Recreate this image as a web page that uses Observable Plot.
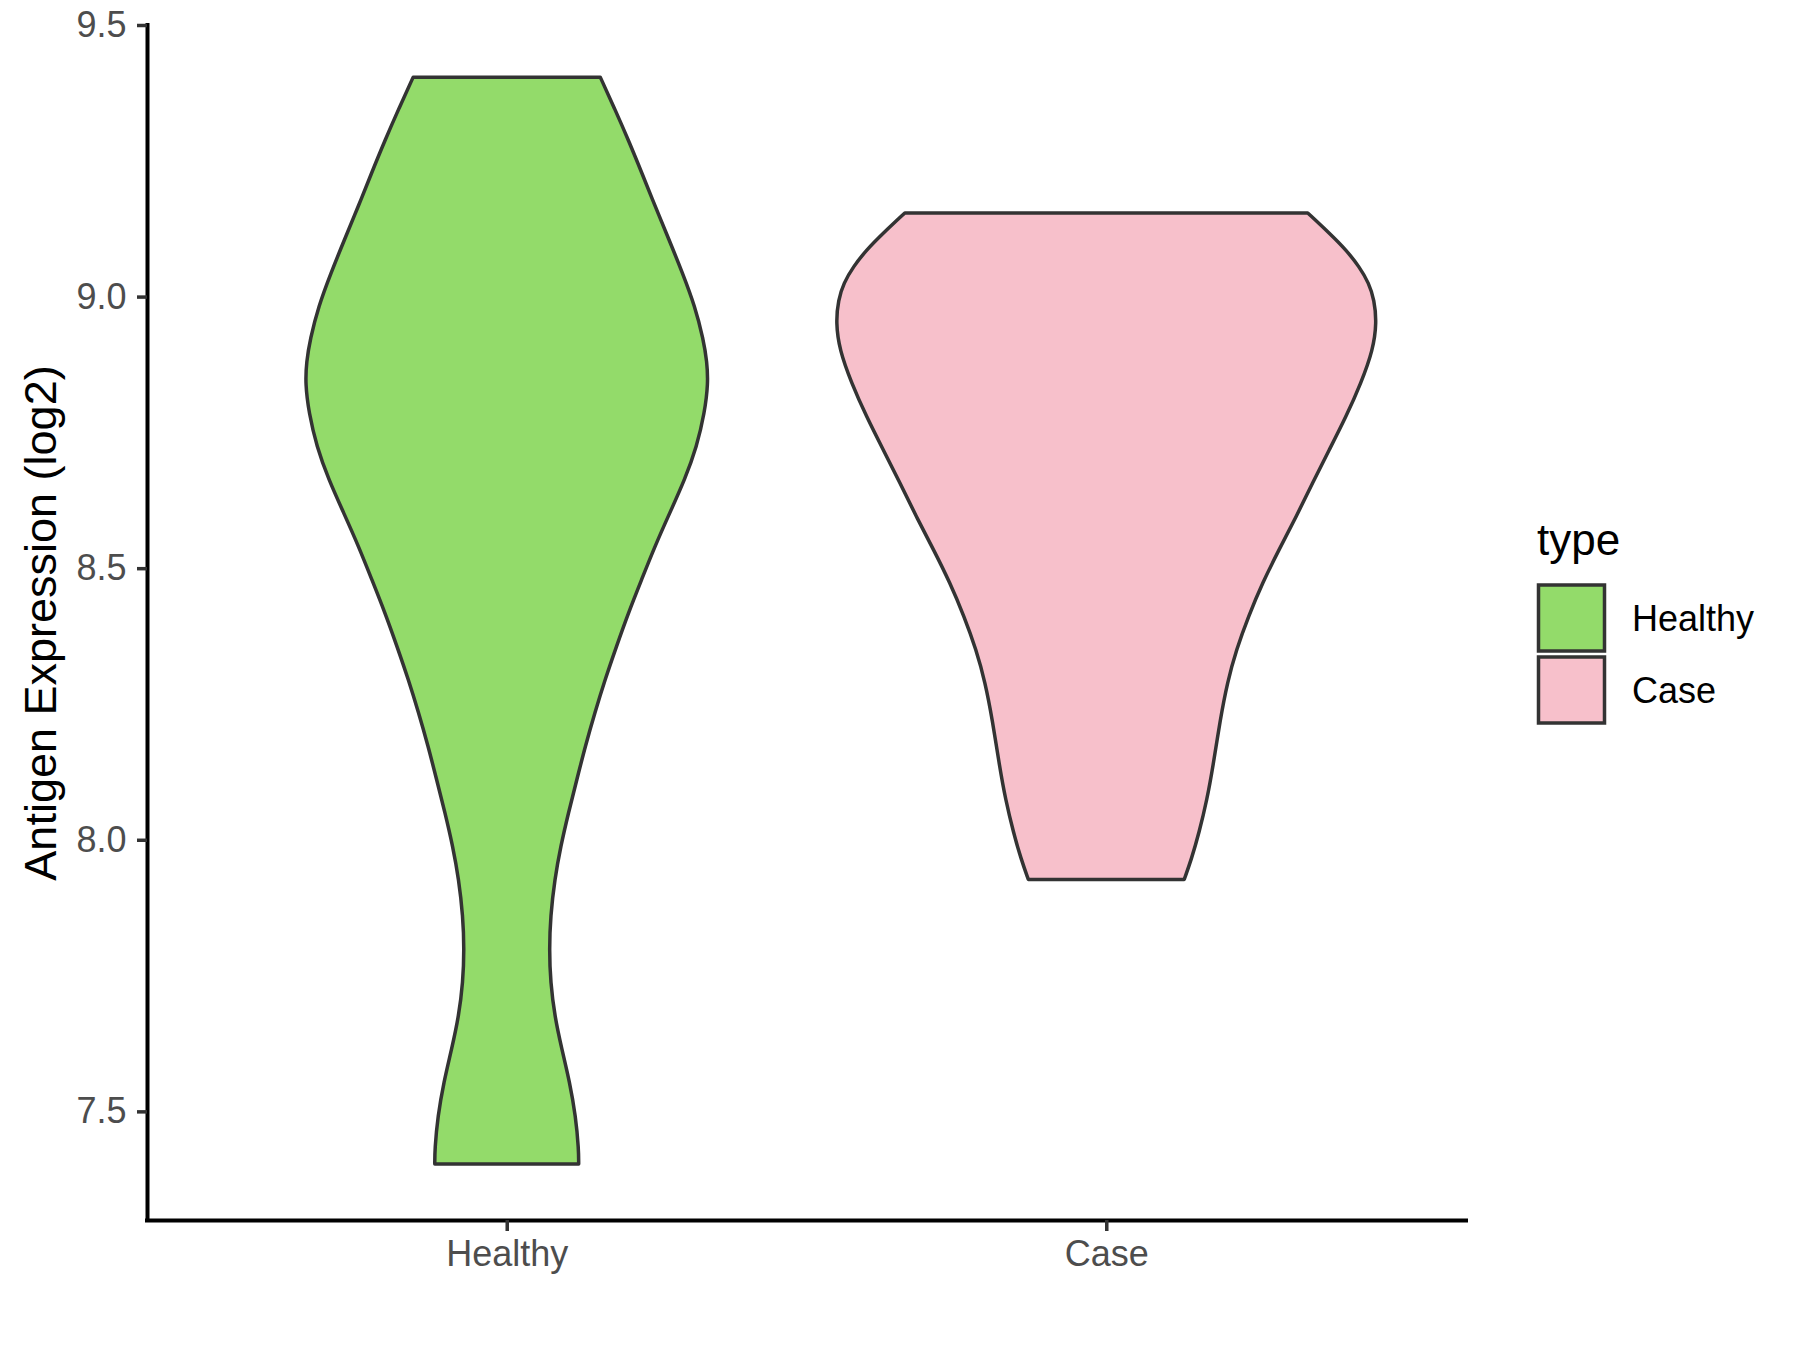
<!DOCTYPE html>
<html><head><meta charset="utf-8">
<script src="https://cdn.jsdelivr.net/npm/d3@7"></script>
<script src="https://cdn.jsdelivr.net/npm/@observablehq/plot@0.6"></script>
<style>body{margin:0;background:#fff;} #chart{width:1800px;height:1350px;}</style>
</head><body><div id="chart"></div>
<script>
const categories = ["Healthy", "Case"];
const fills = ["#93DB6A", "#F7C0CB"];
const yTicks = [7.5, 8.0, 8.5, 9.0, 9.5];
const yTitle = "Antigen Expression (log2)";
const legendTitle = "type";

// violin outlines: expression value and half-width (in category units)
const healthyY = [9.404, 9.346, 9.288, 9.226, 9.165, 9.104, 9.044, 8.982, 8.921, 8.880, 8.840, 8.786, 8.724, 8.663, 8.602, 8.540, 8.479, 8.418, 8.356, 8.295, 8.234, 8.172, 8.111, 8.050, 7.988, 7.927, 7.859, 7.798, 7.738, 7.675, 7.614, 7.554, 7.491, 7.430, 7.403];
const healthyW = [0.156, 0.180, 0.203, 0.226, 0.248, 0.271, 0.293, 0.314, 0.328, 0.334, 0.336, 0.330, 0.317, 0.297, 0.272, 0.247, 0.225, 0.203, 0.183, 0.164, 0.147, 0.131, 0.117, 0.103, 0.090, 0.080, 0.073, 0.071, 0.073, 0.080, 0.092, 0.105, 0.115, 0.120, 0.120];
const caseY = [9.154, 9.117, 9.086, 9.055, 9.025, 8.994, 8.952, 8.902, 8.841, 8.779, 8.718, 8.657, 8.595, 8.534, 8.474, 8.411, 8.350, 8.290, 8.221, 8.135, 8.074, 8.014, 7.964, 7.927];
const caseW = [0.336, 0.372, 0.400, 0.422, 0.438, 0.447, 0.451, 0.445, 0.425, 0.400, 0.372, 0.344, 0.317, 0.288, 0.261, 0.237, 0.217, 0.202, 0.190, 0.178, 0.168, 0.155, 0.142, 0.130];

const rows = [];
[[healthyY, healthyW], [caseY, caseW]].forEach(([ys, ws], i) => {
  ys.forEach((y, j) => rows.push({type: categories[i], y, x1: i + 1 - ws[j], x2: i + 1 + ws[j]}));
});

const font = "'Liberation Sans', Arial, sans-serif";
const chart = Plot.plot({
  width: 1800, height: 1350,
  marginLeft: 147, marginRight: 334, marginTop: 25, marginBottom: 130,
  style: {fontFamily: font, background: "#fff", overflow: "visible"},
  x: {domain: [0.4, 2.6], axis: null},
  y: {domain: [7.3, 9.5], axis: null},
  color: {domain: categories, range: fills},
  marks: [
    Plot.areaX(rows, {y: "y", x1: "x1", x2: "x2", z: "type", fill: "type", stroke: "#333333", strokeWidth: 3.5, strokeLinejoin: "round", curve: "basis"}),
    Plot.ruleX([0.4], {stroke: "#000", strokeWidth: 4, strokeLinecap: "square"}),
    Plot.ruleY([7.3], {stroke: "#000", strokeWidth: 4, strokeLinecap: "square"}),
    Plot.axisY({ticks: yTicks, tickSize: 10, tickFormat: () => "", stroke: "#333333", strokeWidth: 3.5, label: null}),
    Plot.axisY({ticks: yTicks, tickSize: 0, tickPadding: 21, tickFormat: d3.format(".1f"), fontSize: 36, color: "#4D4D4D", label: null}),
    Plot.axisX({ticks: [1, 2], tickSize: 11, tickFormat: () => "", stroke: "#333333", strokeWidth: 3.5, label: null}),
    Plot.axisX({ticks: [1, 2], tickSize: 0, tickPadding: 20, tickFormat: d => categories[d - 1], fontSize: 36, color: "#4D4D4D", label: null}),
    Plot.text([yTitle], {frameAnchor: "left", textAnchor: "middle", rotate: -90, dx: -106, fontSize: 45, fill: "#000"})
  ]
});
document.getElementById("chart").appendChild(chart);

// legend (to the right of the panel, as in the reference)
const svg = d3.select(chart);
const lg = svg.append("g").attr("font-family", font).attr("text-anchor", "start");
lg.append("text").attr("x", 1537).attr("y", 555).attr("font-size", 44).attr("fill", "#000").text(legendTitle);
categories.forEach((c, i) => {
  const top = 585 + i * 72;
  lg.append("rect").attr("x", 1538.5).attr("y", top).attr("width", 66).attr("height", 66)
    .attr("fill", fills[i]).attr("stroke", "#333333").attr("stroke-width", 3.5);
  lg.append("text").attr("x", 1632).attr("y", top + 33).attr("dy", "0.35em")
    .attr("font-size", 36).attr("fill", "#000").text(c);
});
</script>
</body></html>
